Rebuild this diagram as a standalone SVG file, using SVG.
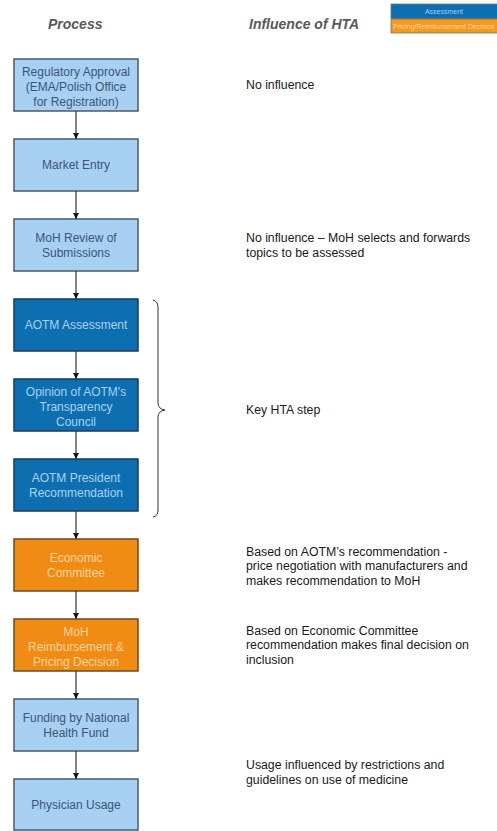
<svg xmlns="http://www.w3.org/2000/svg" width="497" height="831" viewBox="0 0 497 831">
<defs>
<style>
.hdr{font-family:"Liberation Sans",Arial,sans-serif;font-size:14px;font-weight:bold;font-style:italic;fill:#595959}
.note{font-family:"Liberation Sans",Arial,sans-serif;font-size:12.3px;fill:#1a1a1a}
.bt{font-family:"Liberation Sans",Arial,sans-serif;font-size:12px;text-anchor:middle}
.light rect{fill:#a8d0f2;stroke:#4a5b6e;stroke-width:1.5}
.light text{fill:#3b5675}
.dark rect{fill:#0e6fb0;stroke:#1d3a58;stroke-width:1.5}
.dark text{fill:#a9d2f2}
.orange rect{fill:#f08c14;stroke:#6e4a24;stroke-width:1.5}
.orange text{fill:#fbd4a0}
.conn line{stroke:#333;stroke-width:1.2}
.leg{font-family:"Liberation Sans",Arial,sans-serif;font-size:7px;text-anchor:middle}
</style>
<marker id="ah" viewBox="0 0 10 10" refX="10" refY="5" markerWidth="6" markerHeight="6" orient="auto" markerUnits="userSpaceOnUse">
<path d="M0,0 L10,5 L0,10 Z" fill="#111"/>
</marker>
</defs>
<rect width="497" height="831" fill="#fff"/>

<text class="hdr" x="48" y="29">Process</text>
<text class="hdr" x="249" y="29">Influence of HTA</text>

<g id="legend">
<rect x="391" y="4" width="108" height="15" fill="#0e6fb0" stroke="#777" stroke-width="0.8"/>
<rect x="391" y="19" width="108" height="14" fill="#f39a1e" stroke="#777" stroke-width="0.8"/>
<text class="leg" x="444" y="14" fill="#9fd0f5">Assessment</text>
<text class="leg" x="444" y="28.5" fill="#fbd4a0">Pricing/Reimbursement Decision</text>
</g>

<g id="n1" class="light"><rect x="14" y="59" width="124" height="52"/>
<text class="bt" x="76" y="75.5">Regulatory Approval</text>
<text class="bt" x="76" y="90.5">(EMA/Polish Office</text>
<text class="bt" x="76" y="105.5">for Registration)</text></g>
<g id="n2" class="light"><rect x="14" y="139" width="124" height="52"/>
<text class="bt" x="76" y="169">Market Entry</text></g>
<g id="n3" class="light"><rect x="14" y="219" width="124" height="52"/>
<text class="bt" x="76" y="242">MoH Review of</text>
<text class="bt" x="76" y="257">Submissions</text></g>
<g id="n4" class="dark"><rect x="14" y="299" width="124" height="52"/>
<text class="bt" x="76" y="329">AOTM Assessment</text></g>
<g id="n5" class="dark"><rect x="14" y="379" width="124" height="52"/>
<text class="bt" x="76" y="395.5">Opinion of AOTM's</text>
<text class="bt" x="76" y="410.5">Transparency</text>
<text class="bt" x="76" y="425.5">Council</text></g>
<g id="n6" class="dark"><rect x="14" y="459" width="124" height="52"/>
<text class="bt" x="76" y="482">AOTM President</text>
<text class="bt" x="76" y="497">Recommendation</text></g>
<g id="n7" class="orange"><rect x="14" y="539" width="124" height="52"/>
<text class="bt" x="76" y="562">Economic</text>
<text class="bt" x="76" y="577">Committee</text></g>
<g id="n8" class="orange"><rect x="14" y="619" width="124" height="52"/>
<text class="bt" x="76" y="635.5">MoH</text>
<text class="bt" x="76" y="650.5">Reimbursement &amp;</text>
<text class="bt" x="76" y="665.5">Pricing Decision</text></g>
<g id="n9" class="light"><rect x="14" y="699" width="124" height="52"/>
<text class="bt" x="76" y="722">Funding by National</text>
<text class="bt" x="76" y="737">Health Fund</text></g>
<g id="n10" class="light"><rect x="14" y="779" width="124" height="51"/>
<text class="bt" x="76" y="809">Physician Usage</text></g>

<g id="connectors" class="conn">
<line x1="76" y1="111" x2="76" y2="139" marker-end="url(#ah)"/>
<line x1="76" y1="191" x2="76" y2="219" marker-end="url(#ah)"/>
<line x1="76" y1="271" x2="76" y2="299" marker-end="url(#ah)"/>
<line x1="76" y1="351" x2="76" y2="379" marker-end="url(#ah)"/>
<line x1="76" y1="431" x2="76" y2="459" marker-end="url(#ah)"/>
<line x1="76" y1="511" x2="76" y2="539" marker-end="url(#ah)"/>
<line x1="76" y1="591" x2="76" y2="619" marker-end="url(#ah)"/>
<line x1="76" y1="671" x2="76" y2="699" marker-end="url(#ah)"/>
<line x1="76" y1="751" x2="76" y2="779" marker-end="url(#ah)"/>
</g>

<g id="brace">
<path d="M153,300 Q158,301 158,308 L158,403 Q158,409 165,410 Q158,411 158,417 L158,510 Q158,516 153,517" fill="none" stroke="#333" stroke-width="1"/>
</g>

<g id="notes">
<text class="note" x="246" y="89">No influence</text>
<text class="note" x="246" y="242">No influence – MoH selects and forwards</text>
<text class="note" x="246" y="256.5">topics to be assessed</text>
<text class="note" x="246" y="414">Key HTA step</text>
<text class="note" x="246" y="555.5">Based on AOTM’s recommendation -</text>
<text class="note" x="246" y="570">price negotiation with manufacturers and</text>
<text class="note" x="246" y="584.5">makes recommendation to MoH</text>
<text class="note" x="246" y="634.5">Based on Economic Committee</text>
<text class="note" x="246" y="649">recommendation makes final decision on</text>
<text class="note" x="246" y="663.5">inclusion</text>
<text class="note" x="246" y="769">Usage influenced by restrictions and</text>
<text class="note" x="246" y="783.5">guidelines on use of medicine</text>
</g>
</svg>
